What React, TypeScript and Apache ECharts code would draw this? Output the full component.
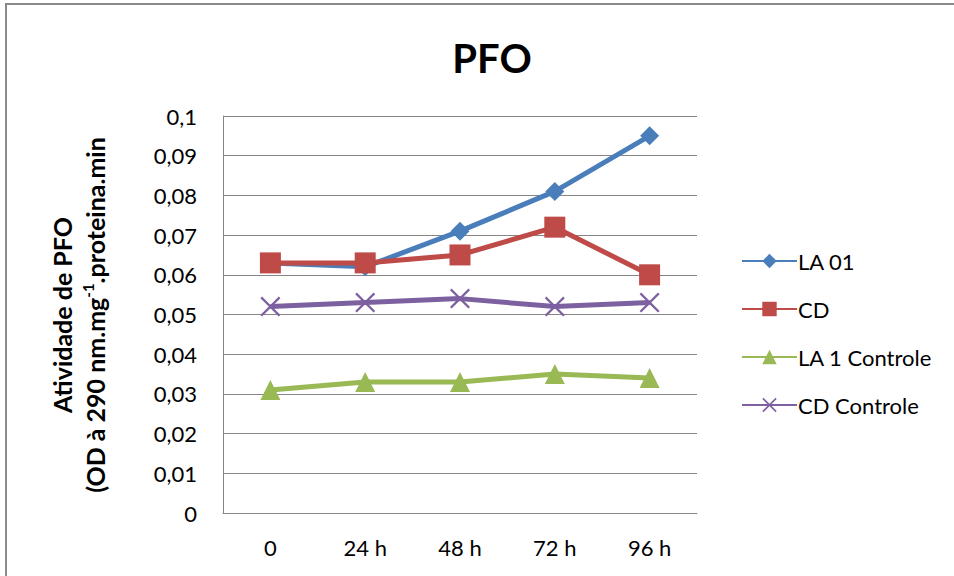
import React, { useEffect, useRef } from "react";
import * as echarts from "echarts";

// Sampling times and PFO activity per culture
const categories = ["0", "24 h", "48 h", "72 h", "96 h"];
const la01 = [0.063, 0.062, 0.071, 0.081, 0.095];
const cd = [0.063, 0.063, 0.065, 0.072, 0.06];
const la1Controle = [0.031, 0.033, 0.033, 0.035, 0.034];
const cdControle = [0.052, 0.053, 0.054, 0.052, 0.053];

const seriesNames = ["LA 01", "CD", "LA 1 Controle", "CD Controle"];
const seriesColors = ["#4A7EBB", "#BE4B48", "#98B954", "#7D60A0"];

const FONT = "Lato, 'Open Sans', sans-serif";

// thin filled "x" glyph used as the CD Controle marker
const CROSS =
  "path://M0,1.6L1.6,0L10,8.4L18.4,0L20,1.6L11.6,10L20,18.4L18.4,20L10,11.6L1.6,20L0,18.4L8.4,10Z";

export default function App() {
  const ref = useRef<HTMLDivElement>(null);

  useEffect(() => {
    if (!ref.current) return;
    const chart = echarts.init(ref.current, null, { renderer: "svg" });

    const data = [la01, cd, la1Controle, cdControle];
    const symbols = ["diamond", "rect", "triangle", CROSS];
    const sizes = [19, 21, 20, 20];

    chart.setOption({
      animation: false,
      backgroundColor: "#ffffff",
      textStyle: { fontFamily: FONT },
      title: {
        text: "PFO",
        left: 487,
        top: 33,
        textAlign: "center",
        textStyle: { fontFamily: FONT, fontSize: 40, fontWeight: "bold", color: "#000" },
      },
      graphic: [
        {
          type: "rect",
          shape: { x: 6, y: 4, width: 1000, height: 1000 },
          style: { fill: "none", stroke: "#8a8a8a", lineWidth: 2 },
          silent: true,
        },
        {
          type: "text",
          x: 78,
          y: 315,
          rotation: Math.PI / 2,
          style: {
            text: "{b|Atividade de PFO}\n{b|(OD à 290 nm.mg}{s|-1}{b|.proteina.min}",
            align: "center",
            verticalAlign: "middle",
            fill: "#000",
            rich: {
              b: { fontFamily: FONT, fontSize: 25, fontWeight: "bold", lineHeight: 33, fill: "#000" },
              s: {
                fontFamily: FONT,
                fontSize: 15,
                fontWeight: "bold",
                lineHeight: 15,
                verticalAlign: "top",
                padding: [2, 0, 0, 0],
                fill: "#000",
              },
            },
          },
        },
      ],
      legend: {
        orient: "vertical",
        left: 736,
        top: 245,
        itemWidth: 55,
        itemHeight: 18,
        itemGap: 26,
        textStyle: { fontFamily: FONT, fontSize: 22, color: "#000", lineHeight: 22, padding: [0, 0, 0, -4] },
        data: seriesNames,
      },
      grid: { left: 223, right: 257, top: 116, bottom: 63, containLabel: false },
      xAxis: {
        type: "category",
        data: categories,
        boundaryGap: true,
        axisLine: { lineStyle: { color: "#868686", width: 1 } },
        axisTick: { show: false },
        axisLabel: { fontFamily: FONT, fontSize: 22, color: "#000", margin: 23 },
      },
      yAxis: {
        type: "value",
        min: 0,
        max: 0.1,
        interval: 0.01,
        axisLine: { show: true, lineStyle: { color: "#868686", width: 1 } },
        axisTick: { show: false },
        splitLine: { lineStyle: { color: "#868686", width: 1 } },
        axisLabel: {
          fontFamily: FONT,
          fontSize: 22,
          color: "#000",
          margin: 26,
          formatter: (v: number) => (v === 0 ? "0" : String(+v.toFixed(2)).replace(".", ",")),
        },
      },
      series: seriesNames.map((name, i) => ({
        name,
        type: "line",
        data: data[i],
        symbol: symbols[i],
        symbolSize: sizes[i],
        color: seriesColors[i],
        lineStyle: { color: seriesColors[i], width: 5 },
        itemStyle: { color: seriesColors[i] },
        z: 2 + i,
      })),
    });

    return () => chart.dispose();
  }, []);

  return (
    <div
      ref={ref}
      style={{ position: "fixed", left: 0, top: 0, width: 954, height: 576 }}
    />
  );
}
